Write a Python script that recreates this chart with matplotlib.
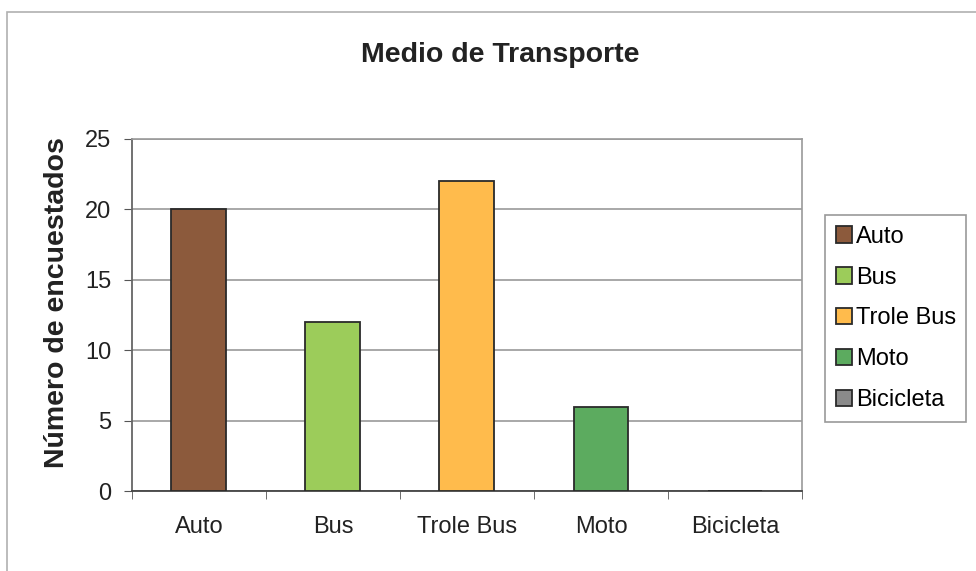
import matplotlib.pyplot as plt
from matplotlib.patches import Rectangle, Patch

plt.rcParams['font.family'] = ['Liberation Sans', 'DejaVu Sans']

categories = ['Auto', 'Bus', 'Trole Bus', 'Moto', 'Bicicleta']
values = [20, 12, 22, 6, 0]
colors = ['#8c5a3c', '#9ccc5a', '#ffbb4c', '#5cab5f', '#8a8a8a']
yticks = [0, 5, 10, 15, 20, 25]

fig = plt.figure(figsize=(9.76, 5.71), dpi=100)
ax = fig.add_axes([0.1352, 0.1401, 0.6865, 0.6165])

# outer chart frame
fig.patches.append(Rectangle((7 / 976, -0.01), 1.0, 1 - 12 / 571 + 0.01,
                             transform=fig.transFigure, fill=False,
                             edgecolor='#b0b0b0', linewidth=1.2))

x = range(len(categories))
ax.bar(x, values, width=0.41, color=colors, edgecolor='#2a2a2a', linewidth=1.3, zorder=3)

ax.set_xlim(-0.5, len(categories) - 0.5)
ax.set_ylim(0, 25)
ax.set_yticks(yticks)
ax.set_xticks(list(x))
ax.set_xticklabels(categories, fontsize=17, color='#222222')
ax.set_xticks([i + 0.5 for i in range(-1, len(categories))], minor=True)
ax.tick_params(axis='x', which='major', length=0, pad=18)
ax.tick_params(axis='x', which='minor', length=6, direction='out', color='#555555')
ax.tick_params(axis='y', length=6, direction='out', pad=9, labelsize=17,
               color='#555555', labelcolor='#222222')

ax.yaxis.grid(True, color='#9a9a9a', linewidth=1.2, zorder=0)
ax.set_axisbelow(True)
for side in ['top', 'right']:
    ax.spines[side].set_color('#9a9a9a')
    ax.spines[side].set_linewidth(1.2)
ax.spines['left'].set_color('#666666')
ax.spines['bottom'].set_color('#444444')
ax.spines['left'].set_linewidth(1.3)
ax.spines['bottom'].set_linewidth(1.3)

ax.set_ylabel('Número de encuestados', fontsize=20.5, fontweight='bold', color='#222222')
ax.yaxis.set_label_coords(-0.092, 0.534)

fig.text(500 / 976, 1 - 55 / 571, 'Medio de Transporte', fontsize=20.5,
         fontweight='bold', ha='center', va='center', color='#222222')

handles = [Patch(facecolor=c, edgecolor='#2a2a2a', linewidth=1.3) for c in colors]
leg = fig.legend(handles, categories, loc='upper left',
                 bbox_to_anchor=(825 / 976, 1 - 215 / 571), fontsize=17,
                 handlelength=0.7, handleheight=0.7, handletextpad=0.15,
                 labelspacing=0.8, borderpad=0.45, borderaxespad=0,
                 fancybox=False, edgecolor='#999999', framealpha=1)
leg.get_frame().set_linewidth(1.2)

fig.savefig('out.png', dpi=100)
